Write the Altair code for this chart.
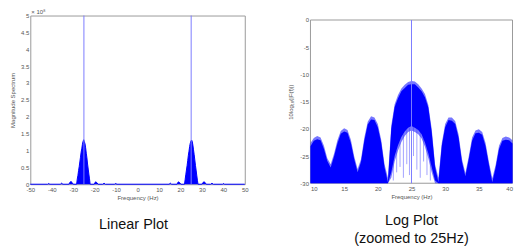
import altair as alt
import pandas as pd

# ---------------- data ----------------
# Linear plot (magnitude spectrum, units of 1e8)
lin_freq = [-50, -41.9, -41.4, -40.9,
            -36.0, -35.4, -34.8,
            -32.0, -31.5, -31.0, -30.5, -30.0,
            -28.4, -28.1, -27.8, -27.5, -27.2, -26.9, -26.6, -26.3, -26.0, -25.7, -25.4,
            -25.1, -24.8, -24.5, -24.2, -23.9, -23.6, -23.3, -23.0, -22.7, -22.4, -22.1,
            -20.2, -19.6, -19.0, -18.4,
            -16.2, -15.6, -15.0,
            -10.8, -10.2, -9.6,
            14.7, 15.3, 15.9,
            18.4, 19.0, 19.6, 20.2,
            21.9, 22.2, 22.5, 22.8, 23.1, 23.4, 23.7, 24.0, 24.3, 24.6, 24.9,
            25.2, 25.5, 25.8, 26.1, 26.4, 26.7, 27.0, 27.3, 27.6, 27.9, 28.2,
            30.0, 30.5, 31.0, 31.5, 32.0,
            34.1, 34.7, 35.3,
            39.6, 40.1, 40.6,
            50]
lin_mag = [0, 0, 0.02, 0,
           0, 0.03, 0,
           0, 0.06, 0.08, 0.05, 0,
           0, 0.15, 0.26, 0.40, 0.52, 0.66, 0.80, 0.95, 1.05, 1.18, 1.27,
           1.32, 1.26, 1.20, 1.08, 0.92, 0.78, 0.60, 0.45, 0.30, 0.16, 0,
           0, 0.07, 0.05, 0,
           0, 0.03, 0,
           0, 0.02, 0,
           0, 0.03, 0,
           0, 0.07, 0.05, 0,
           0, 0.14, 0.28, 0.42, 0.55, 0.70, 0.86, 0.98, 1.12, 1.22, 1.28,
           1.31, 1.27, 1.16, 1.02, 0.88, 0.72, 0.56, 0.42, 0.27, 0.12, 0,
           0, 0.05, 0.07, 0.05, 0,
           0, 0.03, 0,
           0, 0.02, 0,
           0]
lin_spike_freq = [-25, 25]
lin_spike_top = [5, 5]
lin_y_ticks = [0, 0.5, 1, 1.5, 2, 2.5, 3, 3.5, 4, 4.5, 5]
lin_x_ticks = [-50, -40, -30, -20, -10, 0, 10, 20, 30, 40, 50]

# Log plot (10log10 |F|), zoomed 10..40 Hz
log_freq = [10, 10.5, 11, 11.5, 12, 12.5, 13, 13.5, 14, 14.5, 15, 15.5, 16, 16.5, 17, 17.5,
            18, 18.5, 19, 19.5, 20, 20.5, 21, 21.5, 22, 22.5, 23, 23.5, 24, 24.5, 25, 25.5,
            26, 26.5, 27, 27.5, 28, 28.5, 29, 29.5, 30, 30.5, 31, 31.5, 32, 32.5, 33, 33.5,
            34, 34.5, 35, 35.5, 36, 36.5, 37, 37.5, 38, 38.5, 39, 39.5, 40]
# outer (fuzzy) upper edge
log_upper_light = [-22.6, -21.7, -21.3, -21.6, -23.1, -25.4, -26.5, -24.6, -22.1, -20.4, -19.9,
                   -20.2, -22.0, -25.1, -27.4, -25.6, -21.6, -18.7, -17.7, -17.9, -19.1, -22.0,
                   -26.5, -29.0, -19.4, -15.5, -13.8, -12.6, -11.9, -11.4, -11.2, -11.3, -11.8,
                   -12.6, -13.6, -15.6, -20.0, -26.5, -29.0, -22.6, -19.1, -17.9, -17.9, -18.6,
                   -21.1, -25.6, -28.1, -25.1, -21.6, -20.3, -20.1, -20.6, -22.6, -26.1, -29.1,
                   -26.6, -23.1, -21.7, -21.4, -21.6, -22.1]
# solid upper edge
log_upper = [-23.2, -22.2, -21.9, -22.1, -23.7, -25.9, -27.1, -25.1, -22.7, -20.9, -20.5, -20.7,
             -22.6, -25.6, -28.0, -26.1, -22.2, -19.2, -18.3, -18.4, -19.7, -22.5, -27.1, -29.8,
             -20.0, -16.0, -14.4, -13.1, -12.5, -11.9, -11.8, -11.8, -12.4, -13.1, -14.2, -16.1,
             -20.6, -27.0, -29.8, -23.1, -19.7, -18.4, -18.5, -19.1, -21.7, -26.1, -28.7, -25.6,
             -22.2, -20.8, -20.7, -21.1, -23.2, -26.6, -29.8, -27.1, -23.7, -22.2, -22.0, -22.1,
             -22.7]
# solid lower edge (white dome under the main lobe)
log_lower = [-30, -30, -30, -30, -30, -30, -30, -30, -30, -30, -30, -30, -30, -30, -30, -30,
             -30, -30, -30, -30, -30, -30, -30, -30, -28.0, -25.0, -23.0, -21.5, -20.5, -19.8,
             -19.5, -19.8, -20.2, -21.0, -22.5, -24.5, -27.0, -29.5, -30, -30, -30, -30, -30,
             -30, -30, -30, -30, -30, -30, -30, -30, -30, -30, -30, -30, -30, -30, -30, -30,
             -30, -30]
log_lower_light = [-30, -30, -30, -30, -30, -30, -30, -30, -30, -30, -30, -30, -30, -30, -30,
                   -30, -30, -30, -30, -30, -30, -30, -30, -30, -29.0, -26.0, -24.0, -22.4,
                   -21.3, -20.6, -20.3, -20.6, -21.0, -21.8, -23.3, -25.4, -28.0, -30, -30, -30,
                   -30, -30, -30, -30, -30, -30, -30, -30, -30, -30, -30, -30, -30, -30, -30,
                   -30, -30, -30, -30, -30, -30]
# faint strokes below the main lobe
faint_freq = [22.3, 22.8, 23.3, 23.8, 24.3, 24.7, 25.3, 25.8, 26.3, 26.8, 27.3, 27.8]
faint_top = [-26.0, -24.0, -22.5, -21.0, -20.2, -19.8, -19.6, -20.0, -20.6, -21.8, -23.5, -26.0]
faint_bottom = [-29.5, -28.0, -27.0, -29.0, -26.5, -28.5, -25.0, -27.5, -29.0, -26.0, -28.5, -29.5]
log_spike_freq = [25]
log_spike_bottom = [-30]
log_spike_top = [0]
log_x_ticks = [10, 15, 20, 25, 30, 35, 40]
log_y_ticks = [-30, -25, -20, -15, -10, -5, 0]

# ---------------- styling ----------------
BLUE = "#0000ff"
LIGHT = "#3c3cff"
SPIKE = "#7c7cff"
FRAME = "#9a9a9a"
TXT = "#555555"
FONT = "Liberation Sans"

lin_df = pd.DataFrame({"f": lin_freq, "v": lin_mag})
lin_spk = pd.DataFrame({"f": lin_spike_freq, "v": [0, 0], "hi": lin_spike_top})
note_df = pd.DataFrame({"f": [-50], "v": [5], "t": ["\u00d7 10\u2078"]})

xs_l = alt.Scale(domain=[-50, 50], nice=False, zero=False)
ys_l = alt.Scale(domain=[0, 5], nice=False)

x_axis_l = alt.Axis(values=lin_x_ticks, labelExpr="datum.value + ''",
                    title="Frequency (Hz)", ticks=False, labelPadding=2, titlePadding=2,
                    domain=False, labelOverlap=False, labelFlush=False)
y_axis_l = alt.Axis(values=lin_y_ticks, labelExpr="datum.value + ''",
                    title="Magnitude Spectrum", ticks=False, labelPadding=1.5,
                    titlePadding=5, domain=False, labelOverlap=False)


def XL(field):
    return alt.X(field, type="quantitative", scale=xs_l, axis=x_axis_l)


def YL(field):
    return alt.Y(field, type="quantitative", scale=ys_l, axis=y_axis_l)


lin_area = alt.Chart(lin_df).mark_area(color=BLUE, interpolate="linear").encode(
    x=XL("f"), y=YL("v"))
lin_line = alt.Chart(lin_df).mark_line(color=BLUE, strokeWidth=1).encode(
    x=XL("f"), y=YL("v"))
lin_spike = alt.Chart(lin_spk).mark_rule(color=SPIKE, strokeWidth=1).encode(
    x=XL("f"), y=YL("v"), y2="hi:Q")
lin_note = alt.Chart(note_df).mark_text(
    align="left", baseline="bottom", dx=1, dy=-1, fontSize=6, font=FONT, color=TXT
).encode(x=XL("f"), y=YL("v"), text="t:N")

left = alt.layer(lin_area, lin_line, lin_spike, lin_note).properties(
    width=215.5, height=169.5,
    title=alt.TitleParams("Linear Plot", orient="bottom", anchor="middle", fontSize=14.5,
                          font=FONT, fontWeight="normal", color="#111111", offset=18, dx=-4),
)

# right panel
log_df = pd.DataFrame({"f": log_freq, "up": log_upper, "lo": log_lower,
                       "upl": log_upper_light, "lol": log_lower_light})
faint_df = pd.DataFrame({"f": faint_freq, "a": faint_top, "b": faint_bottom})
log_spk = pd.DataFrame({"f": log_spike_freq, "lo": log_spike_bottom, "hi": log_spike_top})
frame_df = pd.DataFrame({"x1": [10], "x2": [40], "y1": [-30], "y2": [0]})

xs_r = alt.Scale(domain=[10, 40], nice=False, zero=False)
ys_r = alt.Scale(domain=[-30, 0], nice=False, zero=False, range=[168.5, 4.5])

x_axis_r = alt.Axis(values=log_x_ticks, labelExpr="datum.value + ''",
                    title="Frequency (Hz)", ticks=False, labelPadding=2, titlePadding=2,
                    domain=False, labelFlush=True, labelOverlap=False)
y_axis_r = alt.Axis(values=log_y_ticks, labelExpr="datum.value + ''",
                    title="10log\u2081\u2080(|F(f)|)", ticks=False, labelPadding=2,
                    titlePadding=6, domain=False, labelOverlap=False)


def XR(field):
    return alt.X(field, type="quantitative", scale=xs_r, axis=x_axis_r)


def YR(field):
    return alt.Y(field, type="quantitative", scale=ys_r, axis=y_axis_r)


frame = alt.Chart(frame_df).mark_rect(filled=False, stroke=FRAME, strokeWidth=1).encode(
    x=XR("x1"), x2="x2:Q", y=YR("y1"), y2="y2:Q")
log_light = alt.Chart(log_df).mark_area(color=LIGHT, opacity=0.7, interpolate="linear").encode(
    x=XR("f"), y=YR("upl"), y2="lol:Q")
log_area = alt.Chart(log_df).mark_area(color=BLUE, interpolate="linear").encode(
    x=XR("f"), y=YR("up"), y2="lo:Q")
faint = alt.Chart(faint_df).mark_rule(color=SPIKE, strokeWidth=1, opacity=0.7).encode(
    x=XR("f"), y=YR("a"), y2="b:Q")
log_spike = alt.Chart(log_spk).mark_rule(color=SPIKE, strokeWidth=1).encode(
    x=XR("f"), y=YR("lo"), y2="hi:Q")

right = alt.layer(frame, faint, log_light, log_area, log_spike).properties(
    width=203, height=168.5,
    view=alt.ViewBackground(stroke="transparent"),
    title=alt.TitleParams(["Log Plot", "(zoomed to 25Hz)"], orient="bottom", anchor="middle",
                          fontSize=14.5, font=FONT, fontWeight="normal", color="#111111",
                          offset=15, dx=0, lineHeight=18),
)

chart = alt.hconcat(left, right, spacing=65.5, bounds="flush").properties(
    padding={"left": 0.4, "top": -1, "right": 0, "bottom": 0}
).configure_view(stroke=FRAME, strokeWidth=1).configure_axis(
    grid=False, labelFont=FONT, labelFontSize=6, labelColor=TXT, titleFont=FONT,
    titleFontSize=6, titleFontWeight="normal", titleColor=TXT, labelOverlap=False,
)

chart.save("out.html", embed_options={"renderer": "svg", "actions": False})
